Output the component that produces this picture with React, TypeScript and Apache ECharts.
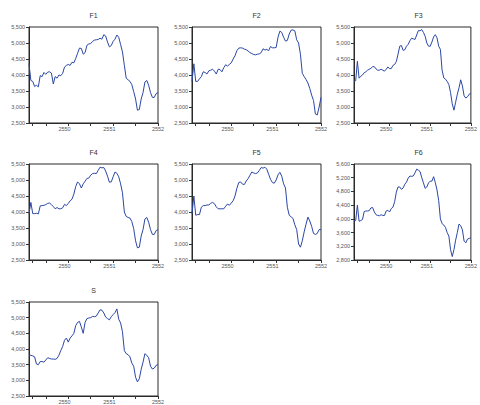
import React, { useEffect, useRef } from "react";
import * as echarts from "echarts";

// ---- data (half-monthly points, Feb 2549 .. Jan 2552) ----
const F1 = [4350,3830,3800,3640,3680,3630,3980,3950,4080,4020, 4090,4100,4060,3720,3950,3900,4000,3980,4050,4250, 4300,4330,4300,4400,4380,4520,4680,4840,4830,4650, 4700,4930,4970,4980,5050,5090,5100,5110,5150,5120, 5260,5220,5030,4880,4920,5050,5120,5250,5180,4950, 4720,4300,3900,3850,3800,3700,3480,3250,2900,2920, 3250,3450,3780,3830,3680,3450,3300,3300,3420,3450];
const F2 = [3800,4350,3800,3800,3880,3950,4100,4080,4030,4130, 4150,4180,4120,4030,4180,4170,4100,4230,4320,4280, 4330,4380,4500,4600,4760,4840,4850,4840,4810,4790, 4750,4700,4670,4640,4630,4650,4660,4700,4820,4780, 4800,4760,4890,4850,4850,4860,5180,5370,5330,5180, 5060,5080,5280,5400,5410,5380,5100,5000,4650,4050, 3950,3860,3750,3580,3370,3200,2780,2750,3000,3300];
const F3 = [3800,3820,4430,3900,3960,4000,4070,4100,4150,4180, 4210,4260,4260,4190,4150,4150,4180,4150,4120,4180, 4250,4200,4200,4300,4330,4420,4650,4900,4920,4770, 4790,4900,4960,5070,5150,5130,5110,5250,5390,5380, 5420,5330,5210,5000,4900,4900,5030,5190,5260,5160, 4900,4800,4150,3910,3870,3800,3700,3450,3100,2900, 3150,3400,3600,3850,3660,3350,3280,3320,3400,3430];
const F4 = [3950,4300,3950,3950,3960,3940,4190,4200,4210,4230, 4270,4280,4230,4170,4100,4140,4100,4100,4130,4240, 4200,4270,4350,4400,4560,4800,4940,4880,4750,4880, 4960,5050,5060,5150,5200,5210,5200,5300,5400,5380, 5390,5280,5120,4930,4940,5100,5250,5210,5100,4880, 4600,4000,3860,3830,3810,3700,3480,3100,2880,2900, 3250,3450,3780,3830,3680,3450,3300,3300,3420,3450];
const F5 = [3950,4500,3900,3920,3920,4150,4200,4200,4220,4220, 4270,4300,4260,4160,4100,4100,4100,4100,4180,4250, 4210,4280,4350,4500,4740,4920,4940,4870,4860,4970, 5040,5150,5250,5220,5200,5220,5300,5390,5370,5400, 5340,5180,5020,4920,4900,5000,5160,5240,5120,4880, 4750,4150,3900,3850,3800,3600,3450,3000,2900,3100, 3380,3620,3840,3720,3550,3330,3300,3330,3450,3450];
const F6 = [3950,3950,4400,3930,3950,3980,4210,4230,4230,4240, 4320,4330,4200,4120,4100,4090,4120,4100,4100,4230, 4250,4200,4300,4340,4500,4780,4930,4930,4860,4900, 5010,5070,5190,5250,5240,5250,5340,5450,5420,5380, 5200,5050,4890,4930,5050,5100,5100,5230,5060,4840, 4530,4000,3860,3820,3750,3600,3500,3100,2900,3100, 3380,3600,3850,3800,3680,3350,3300,3410,3430,3450];
const S = [3800,3800,3780,3750,3520,3500,3600,3600,3580,3650, 3720,3700,3680,3680,3670,3700,3800,3950,4080,4280, 4350,4220,4350,4420,4500,4750,4850,4880,4700,4500, 4850,4970,4990,5000,5040,5030,5050,5150,5250,5240, 5150,5020,4970,4930,5030,5100,5160,5280,4950,4830, 4550,3950,3850,3820,3750,3550,3450,3100,2950,3050, 3350,3580,3850,3800,3720,3450,3360,3390,3480,3500];

const seriesNames = ["F1", "F2", "F3", "F4", "F5", "F6", "S"];
const seriesData = [F1, F2, F3, F4, F5, F6, S];
const yMins = [2500, 2500, 2500, 2500, 2500, 2800, 2500];
const yMaxs = [5500, 5500, 5500, 5500, 5500, 5600, 5500];
const yIntervals = [500, 500, 500, 500, 500, 400, 500];

// x labels (year) and tick positions (indices into categories)
const yearLabels: Record<number, string> = { 19: "2550", 43: "2551", 69: "2552" };
const tickIdx = [2, 9, 21, 33, 45, 57, 69];

// categories: half-month periods starting at second half of Feb 2549
const categories: string[] = [];
for (let i = 0; i < 70; i++) {
  const h = 3 + i;
  const year = 2549 + Math.floor(h / 24);
  const month = Math.floor((h % 24) / 2) + 1;
  categories.push(`${year}-${String(month).padStart(2, "0")}${h % 2 ? "b" : "a"}`);
}

// layout
const colLefts = [29, 192, 354];
const rowTops = [27, 164, 302];
const PW = 129;
const PH = 96;

export default function App() {
  const ref = useRef<HTMLDivElement>(null);
  useEffect(() => {
    if (!ref.current) return;
    const chart = echarts.init(ref.current, null, { renderer: "svg" });
    const font = "Liberation Sans, Arial, sans-serif";
    const grids: any[] = [];
    const xAxes: any[] = [];
    const yAxes: any[] = [];
    const series: any[] = [];
    const graphics: any[] = [];
    seriesNames.forEach((name, k) => {
      const left = colLefts[k % 3];
      const top = rowTops[Math.floor(k / 3)];
      grids.push({ left, top, width: PW, height: PH, show: true, borderColor: "#2a2a2a", borderWidth: 1, backgroundColor: "transparent", containLabel: false });
      xAxes.push({
        type: "category",
        gridIndex: k,
        data: categories,
        boundaryGap: false,
        axisLine: { show: true, lineStyle: { color: "#2a2a2a", width: 1 } },
        axisTick: { show: true, length: 3, interval: (i: number) => tickIdx.includes(i), lineStyle: { color: "#333" } },
        axisLabel: {
          interval: (i: number) => yearLabels[i] !== undefined,
          formatter: (_v: string, i: number) => yearLabels[i] ?? "",
          fontSize: 5.5,
          color: "#555",
          margin: 3,
          fontFamily: font,
        },
        splitLine: { show: false },
      });
      yAxes.push({
        type: "value",
        gridIndex: k,
        min: yMins[k],
        max: yMaxs[k],
        interval: yIntervals[k],
        axisLine: { show: true, lineStyle: { color: "#2a2a2a", width: 1 } },
        axisTick: { show: true, length: 3, lineStyle: { color: "#333" } },
        axisLabel: {
          fontSize: 5.5,
          color: "#555",
          margin: 4,
          fontFamily: font,
          formatter: (v: number) => v.toLocaleString("en-US"),
        },
        splitLine: { show: false },
      });
      series.push({
        type: "line",
        name,
        xAxisIndex: k,
        yAxisIndex: k,
        data: seriesData[k],
        showSymbol: false,
        symbol: "none",
        lineStyle: { color: "#2b47a6", width: 1 },
        silent: true,
      });
      graphics.push({
        type: "text",
        x: left + PW / 2,
        y: top - 12,
        style: { text: name, fill: "#333", fontSize: 7, fontFamily: font, textAlign: "center", textVerticalAlign: "middle" },
      });
    });
    chart.setOption({
      animation: false,
      backgroundColor: "#ffffff",
      grid: grids,
      xAxis: xAxes,
      yAxis: yAxes,
      series,
      graphic: graphics,
    });
    return () => chart.dispose();
  }, []);
  return <div ref={ref} style={{ position: "fixed", left: 0, top: 0, width: 480, height: 405 }} />;
}
